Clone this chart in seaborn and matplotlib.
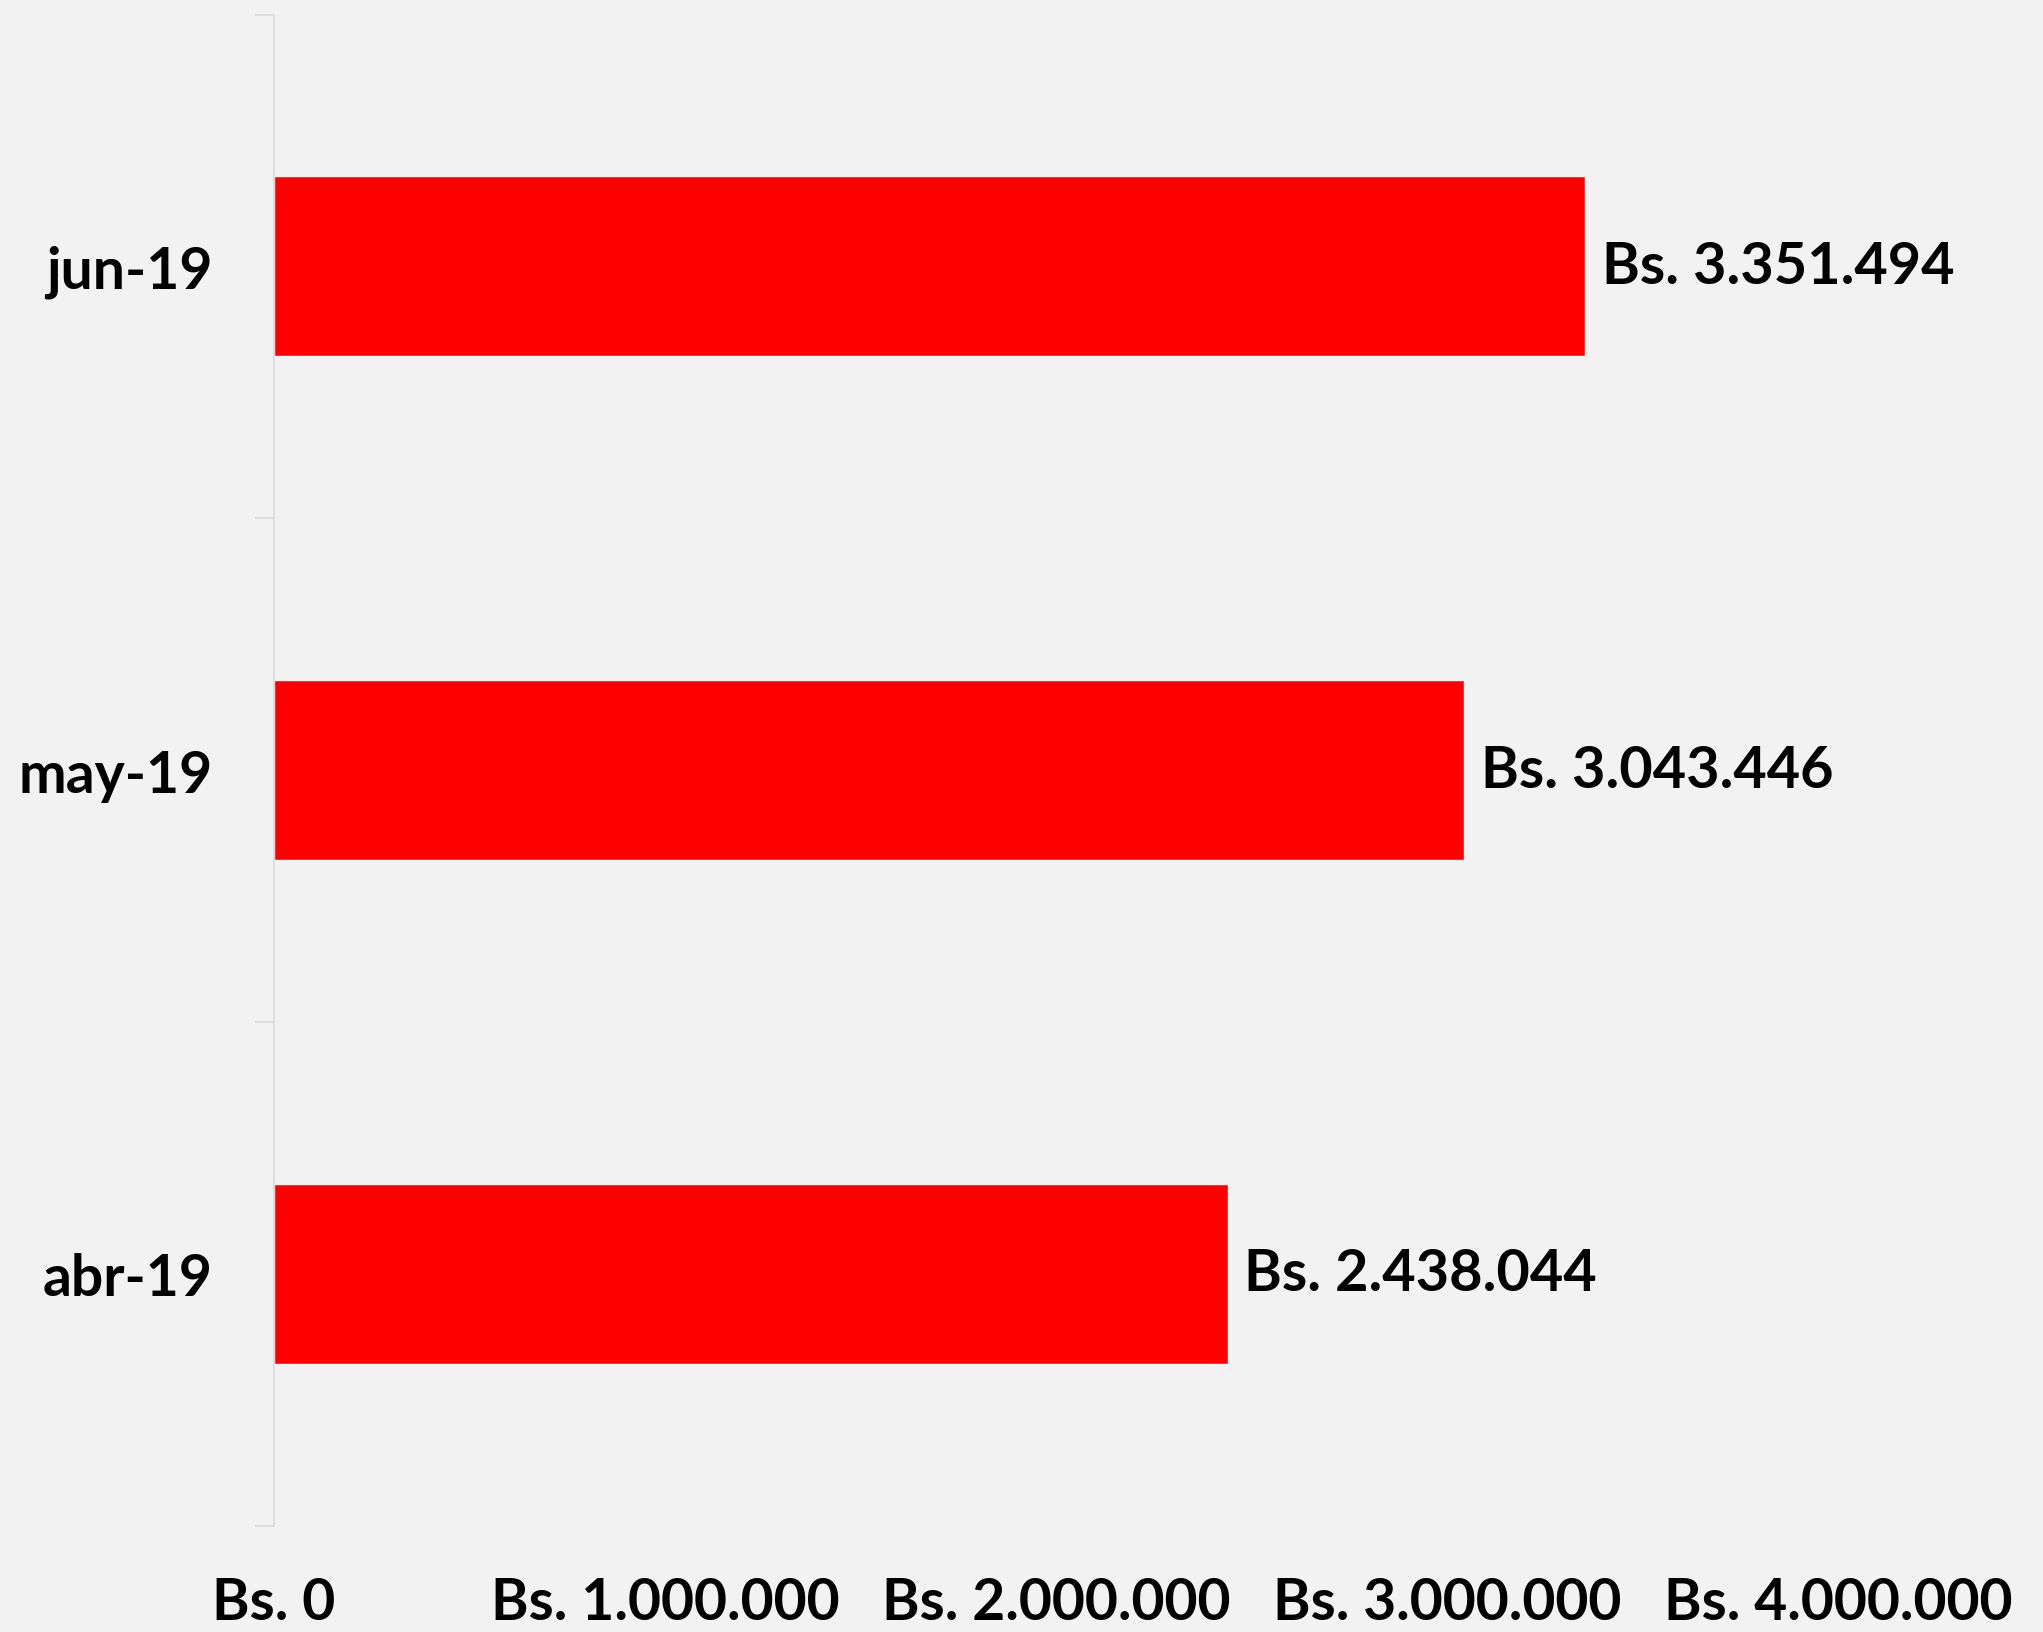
import pandas as pd
import seaborn as sns
import matplotlib.pyplot as plt
from matplotlib.ticker import FixedLocator, NullFormatter

months = ["jun-19", "may-19", "abr-19"]
amounts = [3351494, 3043446, 2438044]
x_ticks = [0, 1000000, 2000000, 3000000, 4000000]


def bs(v):
    return "Bs. " + f"{int(v):,}".replace(",", ".")


df = pd.DataFrame({"mes": months, "monto": amounts})

sns.set_style("white")
plt.rcParams["font.family"] = ["Lato", "DejaVu Sans"]
plt.rcParams["font.weight"] = "bold"

fig = plt.figure(figsize=(20.43, 16.33), dpi=100, facecolor="#f2f2f2")
ax = fig.add_axes([0.134, 0.065, 0.766, 0.9255])
ax.set_facecolor("#f2f2f2")

sns.barplot(data=df, x="monto", y="mes", order=months, orient="h",
            color="#ff0000", saturation=1, width=0.357, ax=ax)

ax.set_xlim(0, 4000000)
ax.set_ylim(2.5, -0.5)

for c in ax.containers:
    ax.bar_label(c, labels=[bs(v) for v in amounts], padding=12,
                 fontsize=41.5, fontweight="bold", color="black")

# x axis: labels only
ax.set_xticks(x_ticks)
ax.set_xticklabels([bs(v) for v in x_ticks], fontsize=41, fontweight="bold")
ax.tick_params(axis="x", length=0, pad=36, labelcolor="black")

# y axis: tick marks between categories, labels at category centres
ax.yaxis.set_major_locator(FixedLocator([-0.5, 0.5, 1.5, 2.5]))
ax.yaxis.set_major_formatter(NullFormatter())
ax.yaxis.set_minor_locator(FixedLocator([0, 1, 2]))
ax.set_yticklabels(months, minor=True, fontsize=41, fontweight="bold")
ax.tick_params(axis="y", which="major", length=14, width=1.2, color="#d9d9d9", left=True)
ax.tick_params(axis="y", which="minor", length=0, pad=44, labelcolor="black")

for s in ["top", "right", "bottom"]:
    ax.spines[s].set_visible(False)
ax.spines["left"].set_color("#d9d9d9")
ax.spines["left"].set_linewidth(1.2)

ax.set_xlabel("")
ax.set_ylabel("")

fig.savefig("out.png", dpi=100, facecolor=fig.get_facecolor())
